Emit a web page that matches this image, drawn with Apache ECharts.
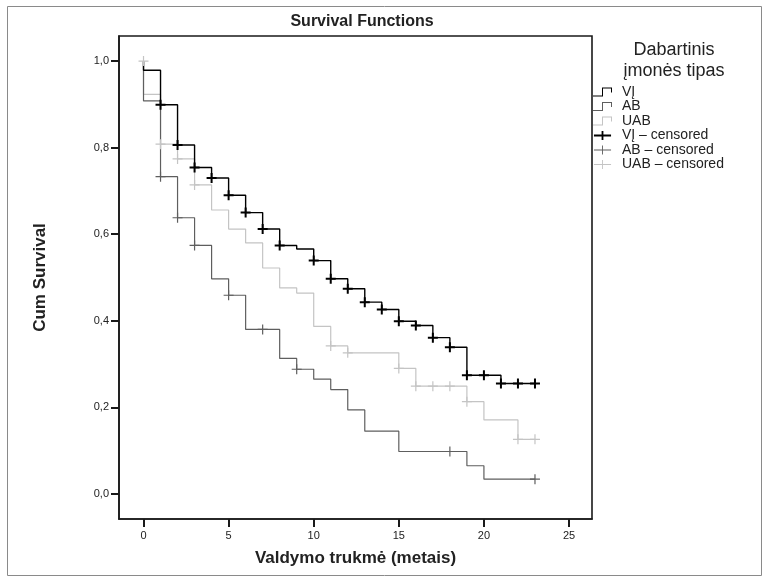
<!DOCTYPE html>
<html>
<head>
<meta charset="utf-8">
<script src="https://cdn.jsdelivr.net/npm/echarts@6/dist/echarts.min.js"></script>
<style>html,body{margin:0;padding:0;background:#fff;}#c{width:768px;height:581px;}</style>
</head>
<body>
<div id="c"></div>
<script>
// ---- data ----
const xTicks = [0, 5, 10, 15, 20, 25];
const yTicks = [0, 0.2, 0.4, 0.6, 0.8, 1.0];

const viTimes = [0,0,1,2,3,4,5,6,7,8,9,10,11,12,13,14,15,16,17,18,19,21,23];
const viSurv  = [1.0,0.979,0.899,0.806,0.754,0.730,0.690,0.650,0.612,0.574,0.566,0.539,0.497,0.474,0.443,0.426,0.399,0.389,0.361,0.339,0.274,0.255,0.255];
const viCensTimes = [1,2,3,4,5,6,7,8,10,11,12,13,14,15,16,17,18,19,20,21,22,23];
const viCensSurv  = [0.899,0.806,0.754,0.730,0.690,0.650,0.612,0.574,0.539,0.497,0.474,0.443,0.426,0.399,0.389,0.361,0.339,0.274,0.274,0.255,0.255,0.255];

const abTimes = [0,0,1,2,3,4,5,6,8,9,10,11,12,13,15,19,20,23];
const abSurv  = [1.0,0.908,0.733,0.638,0.574,0.497,0.459,0.380,0.313,0.288,0.265,0.241,0.194,0.145,0.098,0.065,0.034,0.034];
const abCensTimes = [1,2,3,5,7,9,18,23];
const abCensSurv  = [0.733,0.638,0.574,0.459,0.380,0.288,0.098,0.034];

const uabTimes = [0,0,1,2,3,4,5,6,7,8,9,10,11,12,15,16,19,20,22,23];
const uabSurv  = [1.0,0.923,0.808,0.774,0.714,0.656,0.612,0.580,0.522,0.476,0.464,0.387,0.342,0.326,0.290,0.249,0.213,0.171,0.126,0.126];
const uabCensTimes = [0,1,2,3,11,12,15,16,17,18,19,22,23];
const uabCensSurv  = [1.0,0.808,0.774,0.714,0.342,0.326,0.290,0.249,0.249,0.249,0.213,0.126,0.126];

const groupNames = ['VĮ', 'AB', 'UAB'];
const censNames = ['VĮ – censored', 'AB – censored', 'UAB – censored'];

// ---- styling ----
const colVI = '#000000', colAB = '#5e5e5e', colUAB = '#c4c4c4';
const zip = (a, b) => a.map((v, i) => [v, b[i]]);
const plusBold = 'path://M4,0H6V4H10V6H6V10H4V6H0V4H4Z';
const plusThin = 'path://M4.4,0H5.6V4.4H10V5.6H5.6V10H4.4V5.6H0V4.4H4.4Z';
const stepIcon = 'path://M0,8H9V0H19V5H18V1H10V9H0Z';
const plusIconBold = 'path://M0,4H8.5V0H10.5V4H19V6H10.5V10H8.5V6H0Z';
const plusIconThin = 'path://M0,4.5H9V0H10V4.5H19V5.5H10V10H9V5.5H0Z';
const FONT = '"Liberation Sans", Arial, sans-serif';

const chart = echarts.init(document.getElementById('c'), null, {renderer: 'canvas'});
chart.setOption({
  animation: false,
  backgroundColor: '#ffffff',
  textStyle: {fontFamily: FONT},
  title: [
    {text: 'Survival Functions', left: 357, top: 9, textAlign: 'center',
     textStyle: {fontFamily: FONT, fontSize: 16, fontWeight: 'bold', color: '#222'}},
    {text: 'Dabartinis\nįmonės tipas', left: 669, top: 35, textAlign: 'center',
     textStyle: {fontFamily: FONT, fontSize: 18, fontWeight: 'normal', color: '#222', lineHeight: 21}}
  ],
  legend: {
    orient: 'vertical', left: 593, top: 85, itemWidth: 19, itemHeight: 9, itemGap: 0.5,
    padding: 0, selectedMode: false,
    textStyle: {fontFamily: FONT, fontSize: 14, color: '#222', lineHeight: 14, padding: [0, 0, 0, 5]},
    data: [
      {name: groupNames[0], icon: stepIcon},
      {name: groupNames[1], icon: stepIcon},
      {name: groupNames[2], icon: stepIcon},
      {name: censNames[0], icon: plusIconBold},
      {name: censNames[1], icon: plusIconThin},
      {name: censNames[2], icon: plusIconThin}
    ]
  },
  grid: {left: 119, right: 176, top: 36, bottom: 62, show: true,
         borderColor: '#1a1a1a', borderWidth: 1.6, backgroundColor: 'transparent'},
  xAxis: {
    type: 'value', min: -1.44, max: 26.35,
    name: 'Valdymo trukmė (metais)', nameLocation: 'middle', nameGap: 31,
    nameTextStyle: {fontFamily: FONT, fontSize: 17, fontWeight: 'bold', color: '#222'},
    axisLine: {show: true, onZero: false, lineStyle: {color: '#1a1a1a', width: 1.6}},
    axisTick: {show: true, length: 8, customValues: xTicks, lineStyle: {color: '#1a1a1a', width: 2}},
    axisLabel: {customValues: xTicks, fontFamily: FONT, fontSize: 11, color: '#222', margin: 11},
    splitLine: {show: false}
  },
  yAxis: {
    type: 'value', min: -0.058, max: 1.058,
    name: 'Cum Survival', nameLocation: 'middle', nameGap: 70, nameRotate: 90,
    nameTextStyle: {fontFamily: FONT, fontSize: 17, fontWeight: 'bold', color: '#222'},
    axisLine: {show: true, onZero: false, lineStyle: {color: '#1a1a1a', width: 1.6}},
    axisTick: {show: true, length: 8, customValues: yTicks, lineStyle: {color: '#1a1a1a', width: 2}},
    axisLabel: {customValues: yTicks, fontFamily: FONT, fontSize: 11, color: '#222', margin: 10,
                formatter: v => v.toFixed(1).replace('.', ',')},
    splitLine: {show: false}
  },
  series: [
    {name: groupNames[0], type: 'line', step: 'end', showSymbol: false, z: 4,
     data: zip(viTimes, viSurv), itemStyle: {color: colVI}, lineStyle: {color: colVI, width: 1.4}},
    {name: groupNames[1], type: 'line', step: 'end', showSymbol: false, z: 3,
     data: zip(abTimes, abSurv), itemStyle: {color: colAB}, lineStyle: {color: colAB, width: 1.2}},
    {name: groupNames[2], type: 'line', step: 'end', showSymbol: false, z: 2,
     data: zip(uabTimes, uabSurv), itemStyle: {color: colUAB}, lineStyle: {color: colUAB, width: 1.2}},
    {name: censNames[0], type: 'scatter', symbol: plusBold, symbolSize: 10, z: 6,
     data: zip(viCensTimes, viCensSurv), itemStyle: {color: colVI, opacity: 1}},
    {name: censNames[1], type: 'scatter', symbol: plusThin, symbolSize: 10, z: 5,
     data: zip(abCensTimes, abCensSurv), itemStyle: {color: colAB, opacity: 1}},
    {name: censNames[2], type: 'scatter', symbol: plusThin, symbolSize: 10, z: 5,
     data: zip(uabCensTimes, uabCensSurv), itemStyle: {color: colUAB, opacity: 1}}
  ],
  graphic: [
    {type: 'rect', silent: true, z: -1,
     shape: {x: 7.5, y: 6.5, width: 754, height: 569},
     style: {fill: null, stroke: '#8a8a8a', lineWidth: 1}}
  ]
});
</script>
</body>
</html>
